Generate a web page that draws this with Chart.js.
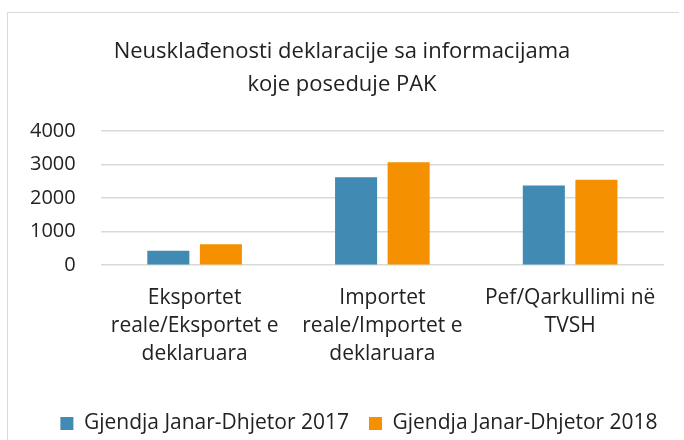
<!DOCTYPE html>
<html>
<head>
<meta charset="utf-8">
<script src="https://cdn.jsdelivr.net/npm/chart.js@4/dist/chart.umd.min.js"></script>
<style>
  html, body { margin: 0; padding: 0; background: #fff; overflow: hidden; }
  #wrap {
    position: absolute; left: 7px; top: 12px;
    width: 672px; height: 432px;
    border: 1px solid #d9d9d9; border-right: none; box-sizing: border-box;
  }
</style>
</head>
<body>
<div id="wrap"><canvas id="chart"></canvas></div>
<script>
    // Kategoritë (etiketat në shumë rreshta)
    const categories = [
        ['Eksportet', 'reale/Eksportet e', 'deklaruara'],
        ['Importet', 'reale/Importet e', 'deklaruara'],
        ['Pef/Qarkullimi në', 'TVSH']
    ];
    const series2017 = [430, 2625, 2375];
    const series2018 = [628, 3070, 2545];
    const yTicks = [0, 1000, 2000, 3000, 4000];

    const font = '"Open Sans", "Liberation Sans", sans-serif';

    // Zhvendos pak legjendën djathtas/poshtë si në origjinal
    const legendShift = {
        id: 'legendShift',
        afterLayout: function(chart) {
            const lg = chart.legend;
            if (!lg) {
                return;
            }
            lg.left += 17;
            lg.right += 17;
            lg.top += 2;
            lg.bottom += 2;
        }
    };

    const ctx = document.getElementById('chart');
    new Chart(ctx, {
        type: 'bar',
        data: {
            labels: categories,
            datasets: [{
                label: 'Gjendja Janar-Dhjetor 2017',
                data: series2017,
                backgroundColor: '#418ab3',
                categoryPercentage: 0.56,
                barPercentage: 0.8
            }, {
                label: 'Gjendja Janar-Dhjetor 2018',
                data: series2018,
                backgroundColor: '#f59100',
                categoryPercentage: 0.56,
                barPercentage: 0.8
            }]
        },
        options: {
            responsive: true,
            maintainAspectRatio: false,
            animation: false,
            layout: { padding: { left: 12, right: 15, top: 8, bottom: 1 } },
            plugins: {
                title: {
                    display: true,
                    text: ['Neusklađenosti deklaracije sa informacijama', 'koje poseduje PAK'],
                    color: '#222',
                    font: { family: font, size: 22, weight: 'normal', lineHeight: 1.5 },
                    padding: { top: 14, bottom: 30 }
                },
                legend: {
                    position: 'bottom',
                    labels: {
                        color: '#222',
                        font: { family: font, size: 21 },
                        boxWidth: 13,
                        boxHeight: 13,
                        padding: 20
                    }
                },
                tooltip: { enabled: false }
            },
            scales: {
                x: {
                    grid: { display: false },
                    border: { display: false },
                    ticks: {
                        color: '#222',
                        font: { family: font, size: 21, lineHeight: 1.33 },
                        maxRotation: 0,
                        autoSkip: false,
                        padding: 11
                    },
                    afterFit: function(axis) {
                        axis.height += 12;
                    }
                },
                y: {
                    min: 0,
                    max: 4000,
                    afterBuildTicks: function(axis) {
                        axis.ticks = yTicks.map(v => ({ value: v }));
                    },
                    afterFit: function(axis) {
                        axis.width -= 15;
                    },
                    grid: { color: '#d9d9d9', lineWidth: 1.5, drawTicks: false },
                    border: { display: false },
                    ticks: {
                        color: '#222',
                        font: { family: font, size: 20 },
                        padding: 25,
                        autoSkip: false,
                        callback: function(value) {
                            return String(value);
                        }
                    }
                }
            }
        },
        plugins: [legendShift]
    });
</script>
</body>
</html>
